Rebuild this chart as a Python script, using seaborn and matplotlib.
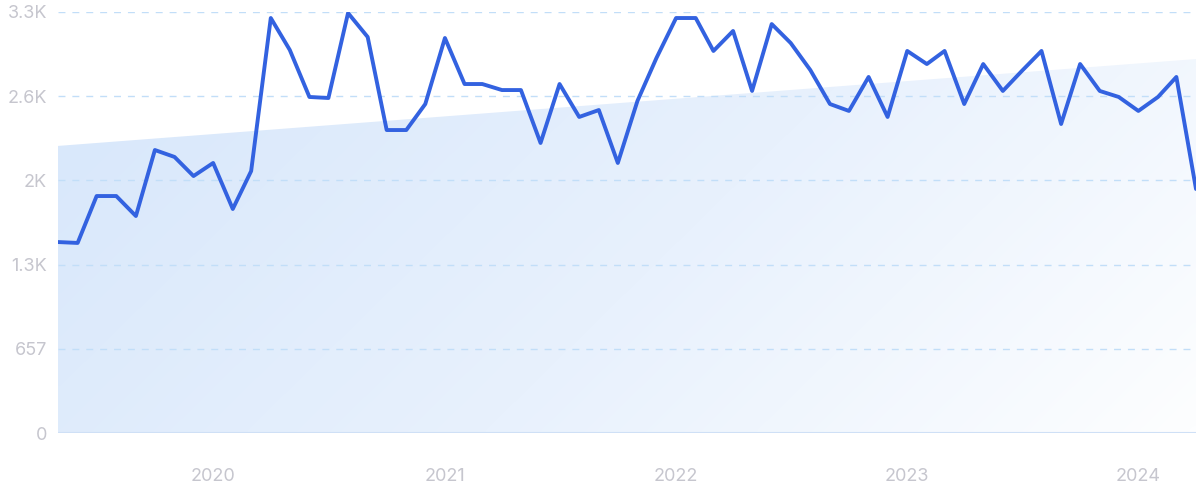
import numpy as np
import pandas as pd
import matplotlib
matplotlib.use("Agg")
import matplotlib.pyplot as plt
import seaborn as sns
from matplotlib.patches import Polygon
from matplotlib.colors import LinearSegmentedColormap
import matplotlib.dates as mdates

# monthly values, May 2019 .. Apr 2024
months = pd.date_range("2019-05-01", periods=60, freq="MS")
values = [1490, 1483, 1849, 1849, 1693, 2208, 2154, 2005, 2107, 1748,
          2044, 3238, 2989, 2622, 2614, 3277, 3090, 2364, 2364, 2567,
          3082, 2723, 2723, 2676, 2676, 2263, 2723, 2466, 2520, 2107,
          2591, 2926, 3238, 3238, 2981, 3137, 2669, 3191, 3043, 2832,
          2567, 2513, 2778, 2466, 2981, 2879, 2981, 2567, 2879, 2669,
          2825, 2981, 2411, 2879, 2669, 2622, 2513, 2622, 2778, 1904]
trend_start = 2240
trend_end = 2918

yticks = [0, 657, 1314, 1971, 2628, 3285]
ytick_labels = ["0", "657", "1.3K", "2K", "2.6K", "3.3K"]
years = ["2020", "2021", "2022", "2023", "2024"]

df = pd.DataFrame({"month": months, "value": values})

sns.set_style("white")
plt.rcParams["font.family"] = ["Inter", "DejaVu Sans"]

fig = plt.figure(figsize=(12, 4.99), dpi=100)
ax = fig.add_axes([58 / 1200, 66 / 499, 1138 / 1200, 421 / 499])

x0 = mdates.date2num(months[0])
x1 = mdates.date2num(months[-1])
ymax = yticks[-1]

# gradient trend area
nx, ny = 300, 120
gx, gy = np.meshgrid(np.linspace(0, 1, nx), np.linspace(1, 0, ny))
t = np.clip(0.8 * gx + 0.3 * (1 - gy) - 0.1, 0, 1)
cmap = LinearSegmentedColormap.from_list("g", ["#d9e8fb", "#e8f1fd", "#fdfeff"])
img = ax.imshow(t, cmap=cmap, vmin=0, vmax=1, aspect="auto",
                extent=[x0, x1, 0, ymax], zorder=1, interpolation="bicubic")
poly = Polygon([[x0, 0], [x0, trend_start], [x1, trend_end], [x1, 0]],
               closed=True, facecolor="none", edgecolor="none")
ax.add_patch(poly)
img.set_clip_path(poly)

for yt in yticks[1:]:
    ax.axhline(yt, color="#c2def8", lw=1, ls=(0, (5, 5)), zorder=2)
ax.axhline(0, color="#cfe0f6", lw=1.5, zorder=2)

sns.lineplot(data=df, x="month", y="value", ax=ax, color="#3362e0",
             lw=2.8, zorder=5)

ax.set_xlim(x0, x1)
ax.set_ylim(0, ymax)
ax.set_yticks(yticks)
ax.set_yticklabels(ytick_labels)
ax.set_xticks([mdates.date2num(pd.Timestamp(f"{y}-01-01")) for y in years])
ax.set_xticklabels(years)
ax.tick_params(axis="both", length=0, labelcolor="#c6c6ce", labelsize=13)
ax.tick_params(axis="x", pad=25)
ax.tick_params(axis="y", pad=8)
ax.set_xlabel("")
ax.set_ylabel("")
for s in ax.spines.values():
    s.set_visible(False)

fig.savefig("out.png", dpi=100)
